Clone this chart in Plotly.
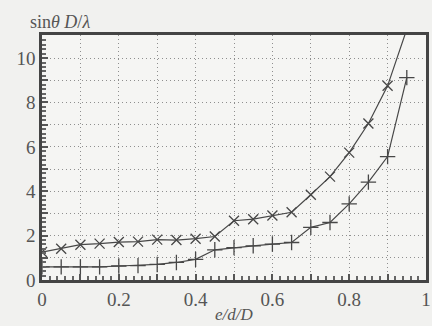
import plotly.graph_objects as go

x_vals = [0, 0.05, 0.1, 0.15, 0.2, 0.25, 0.3, 0.35, 0.4, 0.45,
          0.5, 0.55, 0.6, 0.65, 0.7, 0.75, 0.8, 0.85, 0.9, 0.95]
upper = [1.26, 1.41, 1.59, 1.64, 1.71, 1.73, 1.82, 1.80, 1.86, 1.96,
         2.67, 2.74, 2.91, 3.05, 3.84, 4.66, 5.74, 7.05, 8.75, 11.3]
lower = [0.59, 0.59, 0.59, 0.59, 0.63, 0.65, 0.70, 0.79, 0.93, 1.36,
         1.46, 1.54, 1.62, 1.69, 2.37, 2.59, 3.43, 4.41, 5.56, 9.12]

x_ticks = [0, 0.1, 0.2, 0.3, 0.4, 0.5, 0.6, 0.7, 0.8, 0.9, 1.0]
x_ticktext = ["0", "", "0.2", "", "0.4", "", "0.6", "", "0.8", "", "1"]
y_ticks = [0, 1, 2, 3, 4, 5, 6, 7, 8, 9, 10]
y_ticktext = ["0", "", "2", "", "4", "", "6", "", "8", "", "10"]

line_col = "#474747"
font_fam = "Liberation Serif"

fig = go.Figure()
fig.add_trace(go.Scatter(
    x=x_vals, y=upper, mode="lines+markers",
    line=dict(color=line_col, width=1.2),
    marker=dict(symbol="x-thin-open", size=10, line=dict(color=line_col, width=1.3)),
    showlegend=False))
fig.add_trace(go.Scatter(
    x=x_vals, y=lower, mode="lines+markers",
    line=dict(color=line_col, width=1.2),
    marker=dict(symbol="cross-thin-open", size=11, line=dict(color=line_col, width=1.3)),
    showlegend=False))

fig.update_layout(
    width=432, height=326,
    margin=dict(l=42, r=6, t=35, b=46, autoexpand=False),
    paper_bgcolor="#f1f1ef",
    plot_bgcolor="#f5f5f3",
    font=dict(family=font_fam, size=17, color="#555555"),
    xaxis=dict(
        range=[0, 1], tickvals=x_ticks, ticktext=x_ticktext, automargin=False,
        ticks="inside", ticklen=6, tickcolor="#555", tickwidth=1.5,
        showgrid=True, gridcolor="#8f8f8f", griddash="1px,3px", gridwidth=1,
        zeroline=False, showline=True, linecolor="#444", linewidth=2.5, mirror=True,
        minor=dict(dtick=0.02, ticks="inside", ticklen=4, tickcolor="#666", showgrid=False),
        tickfont=dict(family=font_fam, size=19, color="#555"),
    ),
    yaxis=dict(
        range=[0, 11.04], tickvals=y_ticks, ticktext=y_ticktext, automargin=False,
        ticks="inside", ticklen=6, tickcolor="#555", tickwidth=1.5,
        showgrid=True, gridcolor="#8f8f8f", griddash="1px,3px", gridwidth=1,
        zeroline=False, showline=True, linecolor="#444", linewidth=2.5, mirror=True,
        minor=dict(dtick=0.2, ticks="inside", ticklen=4, tickcolor="#666", showgrid=False),
        tickfont=dict(family=font_fam, size=19, color="#555"),
    ),
    annotations=[
        dict(text="sin<i>θ D</i>/<i>λ</i>", xref="paper", yref="paper",
             x=-0.036, y=1.0, xanchor="left", yanchor="bottom", yshift=1,
             showarrow=False, font=dict(family=font_fam, size=18, color="#555")),
        dict(text="<i>e/d/D</i>", xref="paper", yref="paper",
             x=0.5, y=0, xanchor="center", yanchor="top", yshift=-23,
             showarrow=False, font=dict(family=font_fam, size=17, color="#555")),
    ],
)

fig.write_html(
    "out.html",
    config={"displayModeBar": False},
    post_script="document.body.style.margin='0';document.body.style.background='#f1f1ef';",
)
